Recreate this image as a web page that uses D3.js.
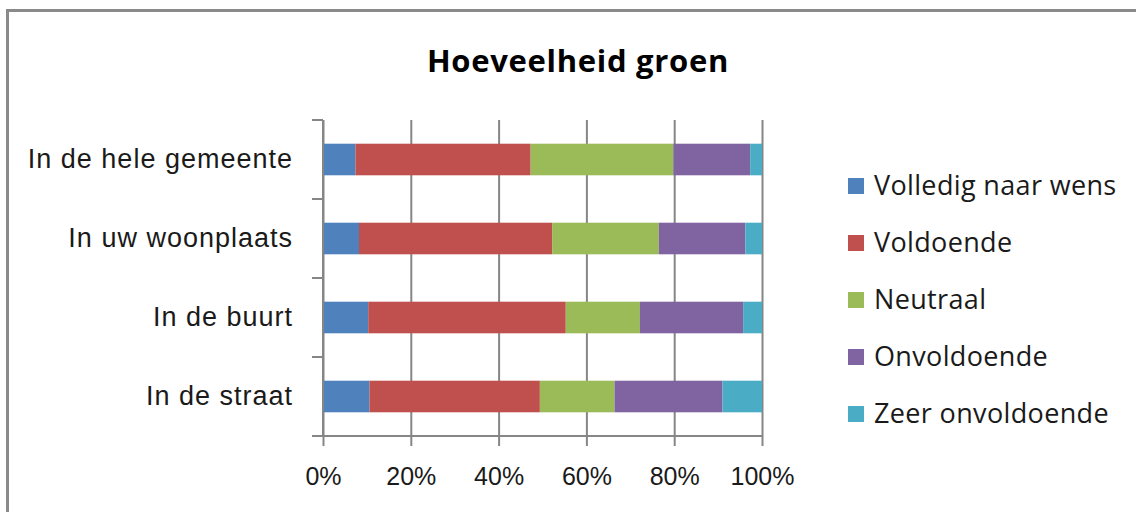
<!DOCTYPE html>
<html lang="nl">
<head>
<meta charset="utf-8">
<title>Hoeveelheid groen</title>
<script src="https://d3js.org/d3.v7.min.js"></script>
<style>
  body { margin: 0; background: white; }
  svg { display: block; font-family: "Open Sans", sans-serif; }
  .axis path { display: none; }
  .grid line { stroke: #868686; stroke-width: 2; }
  .xaxis text { font-size: 25px; fill: #1a1a1a; }
  .yaxis text { font-size: 27px; fill: #1a1a1a; letter-spacing: 1px; }
  .legend text { font-size: 27px; fill: #1a1a1a; letter-spacing: 0.35px; }
</style>
</head>
<body>
<svg id="chart" width="1136" height="512"></svg>
<script>
// data
var categories = ["In de hele gemeente", "In uw woonplaats", "In de buurt", "In de straat"];
var seriesNames = ["Volledig naar wens", "Voldoende", "Neutraal", "Onvoldoende", "Zeer onvoldoende"];
var volledig = [7.4, 8.2, 10.3, 10.6];
var voldoende = [39.9, 44.0, 45.0, 38.8];
var neutraal = [32.5, 24.3, 16.9, 17.0];
var onvoldoende = [17.5, 19.7, 23.5, 24.6];
var zeerOnvoldoende = [2.7, 3.8, 4.3, 9.0];
var tickValues = [0, 0.2, 0.4, 0.6, 0.8, 1];
var colors = ["#4F81BD", "#C0504D", "#9BBB59", "#8064A2", "#4BACC6"];

var seriesValues = [volledig, voldoende, neutraal, onvoldoende, zeerOnvoldoende];
var rows = categories.map(function(c, i) {
    var row = {cat: c};
    seriesNames.forEach(function(s, j) { row[s] = seriesValues[j][i]; });
    return row;
});

var plot = {left: 323, right: 762, top: 120, bottom: 436};
var svg = d3.select("#chart");

// outer chart border
svg.append("rect")
    .attr("x", 7.5).attr("y", 10.5)
    .attr("width", 1200).attr("height", 600)
    .attr("fill", "white")
    .attr("stroke", "#8a8a8a")
    .attr("stroke-width", 3);

svg.append("text")
    .attr("x", 578).attr("y", 72)
    .attr("text-anchor", "middle")
    .style("font-size", "31px")
    .style("font-weight", "bold")
    .style("letter-spacing", "0.7px")
    .attr("fill", "#000")
    .text("Hoeveelheid groen");

var x = d3.scaleLinear().domain([0, 1]).range([plot.left, plot.right]);
var y = d3.scaleBand().domain(categories).range([plot.top, plot.bottom]).padding(0);

var stack = d3.stack().keys(seriesNames).offset(d3.stackOffsetExpand);
var stacked = stack(rows);
var barH = y.bandwidth() / 2.5;

// gridlines
svg.append("g")
    .attr("class", "grid axis")
    .attr("transform", "translate(0," + plot.bottom + ")")
    .call(d3.axisBottom(x).tickValues(tickValues).tickSizeInner(-(plot.bottom - plot.top)).tickSizeOuter(0).tickFormat(""));

// bars
svg.append("g").selectAll("g")
    .data(stacked)
    .join("g")
      .attr("fill", function(d, i) { return colors[i]; })
    .selectAll("rect")
    .data(function(d) { return d; })
    .join("rect")
      .attr("x", function(d) { return x(d[0]); })
      .attr("y", function(d) { return y(d.data.cat) + (y.bandwidth() - barH) / 2; })
      .attr("width", function(d) { return x(d[1]) - x(d[0]); })
      .attr("height", barH);

// x axis with outside ticks
svg.append("g")
    .attr("class", "xaxis axis grid")
    .attr("transform", "translate(0," + plot.bottom + ")")
    .call(d3.axisBottom(x).tickValues(tickValues).tickSizeInner(10).tickSizeOuter(0).tickPadding(21).tickFormat(d3.format(".0%")));

// axis lines
svg.append("line")
    .attr("x1", plot.left - 11).attr("x2", plot.right)
    .attr("y1", plot.bottom).attr("y2", plot.bottom)
    .attr("stroke", "#868686").attr("stroke-width", 2);
svg.append("line")
    .attr("x1", plot.left).attr("x2", plot.left)
    .attr("y1", plot.top).attr("y2", plot.bottom)
    .attr("stroke", "#868686").attr("stroke-width", 2);

// category tick marks between bands
svg.append("g").selectAll("line")
    .data(categories)
    .join("line")
      .attr("x1", plot.left - 11).attr("x2", plot.left)
      .attr("y1", function(d) { return y(d); })
      .attr("y2", function(d) { return y(d); })
      .attr("stroke", "#868686").attr("stroke-width", 2);

svg.append("g")
    .attr("class", "yaxis axis")
    .attr("transform", "translate(" + plot.left + ",0)")
    .call(d3.axisLeft(y).tickSize(0).tickPadding(30));

// legend
var legend = svg.append("g").attr("class", "legend")
    .selectAll("g")
    .data(seriesNames)
    .join("g")
      .attr("transform", function(d, i) { return "translate(848," + (186 + i * 57) + ")"; });

legend.append("rect")
    .attr("x", 0).attr("y", -8)
    .attr("width", 16).attr("height", 16)
    .attr("fill", function(d, i) { return colors[i]; });

legend.append("text")
    .attr("x", 26).attr("y", 0)
    .attr("dy", "0.35em")
    .text(function(d) { return d; });
</script>
</body>
</html>
